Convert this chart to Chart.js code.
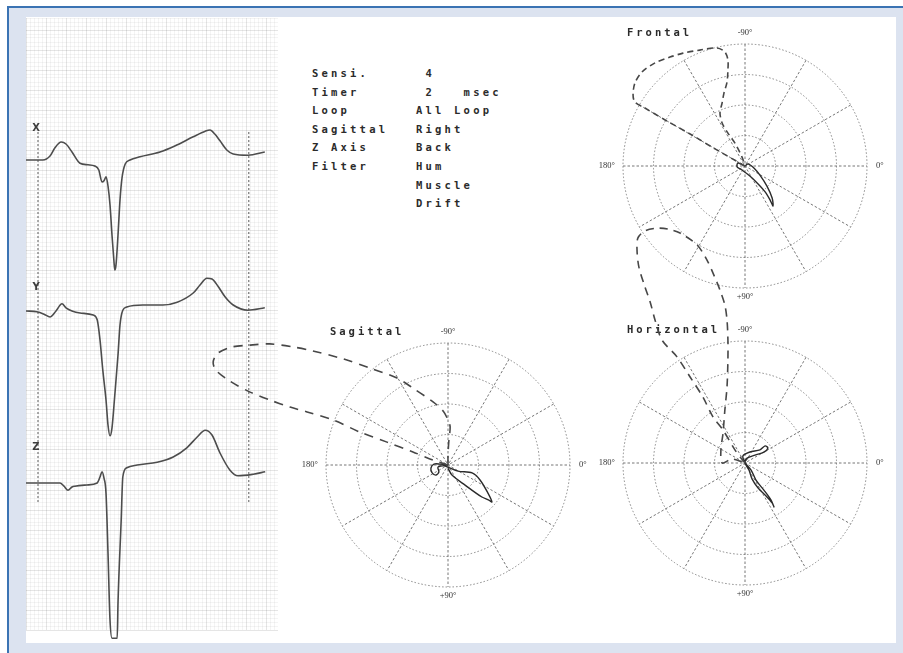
<!DOCTYPE html>
<html>
<head>
<meta charset="utf-8">
<title>Vectorcardiogram</title>
<script src="https://cdn.jsdelivr.net/npm/chart.js@4.4.1/dist/chart.umd.min.js"></script>
<style>
  html, body { margin: 0; padding: 0; background: #fff; }
  #page { position: relative; width: 903px; height: 653px; overflow: hidden; background: #fff; }
  #frame { position: absolute; left: 7px; top: 6px; width: 920px; height: 670px; background: #dce3f0;
           border-top: 2px solid #3b73b3; border-left: 2px solid #3b73b3; }
  #sheet { position: absolute; left: 26px; top: 17px; width: 870px; height: 626px; background: #fff; }
  #ecg { position: absolute; left: 26px; top: 18px; }
  #vcg { position: absolute; left: 0; top: 0; pointer-events: none; }
  .info { position: absolute; top: 64px; font: bold 10.5px "DejaVu Sans Mono", monospace;
          letter-spacing: 3.2px; line-height: 18.6px; color: #2b2b2b; white-space: pre; }
</style>
</head>
<body>
<div id="page">
  <div id="frame"></div>
  <div id="sheet"></div>
  <canvas id="ecg" width="252" height="627"></canvas>
  <div class="info" id="infoNames" style="left:312px"></div>
  <div class="info" id="infoValues" style="left:416px"></div>
  <canvas id="vcg" width="903" height="653"></canvas>
</div>
<script>
// ---------- recorder settings ----------
const settingNames  = ['Sensi.', 'Timer', 'Loop', 'Sagittal', 'Z Axis', 'Filter', '', ''];
const settingValues = [' 4', ' 2   msec', 'All Loop', 'Right', 'Back', 'Hum', 'Muscle', 'Drift'];

// ---------- scalar leads: [time ms, amplitude mV] ----------
const leadX = [[0,0],[42,0],[60,0.1],[72,0.3],[88,0.45],[100,0.4],[115,0.2],[135,-0.08],[155,-0.12],
  [172,-0.15],[182,-0.25],[190,-0.55],[195,-0.52],[200,-0.42],[205,-0.65],[210,-1.12],[215,-1.88],
  [220,-2.55],[222,-2.75],[225,-2.62],[230,-1.88],[235,-1.0],[240,-0.45],[248,-0.1],[260,0],[285,0.08],
  [335,0.2],[372,0.35],[418,0.58],[448,0.72],[460,0.75],[472,0.65],[485,0.48],[502,0.25],[518,0.15],
  [555,0.12],[597,0.2]];
const leadY = [[0,0],[27,-0.02],[45,-0.08],[60,-0.15],[75,0],[90,0.18],[100,0.08],[115,0],[135,-0.05],
  [168,-0.1],[178,-0.22],[185,-0.72],[192,-1.48],[200,-2.22],[205,-2.85],[210,-3.12],[215,-2.92],
  [222,-2.1],[230,-1.1],[235,-0.35],[242,0.02],[252,0.1],[292,0.15],[342,0.15],[378,0.22],[418,0.45],
  [435,0.65],[452,0.82],[465,0.8],[480,0.62],[498,0.35],[518,0.15],[555,0.02],[597,0.08]];
const leadZ = [[0,0],[42,0],[85,0],[95,-0.08],[105,-0.18],[115,-0.1],[122,-0.08],[152,-0.05],[178,0],
  [185,0.15],[190,0.28],[195,0.12],[200,-0.25],[205,-1.75],[210,-3.42],[215,-3.88],[228,-3.88],
  [230,-3.0],[238,-0.92],[242,0.15],[252,0.38],[278,0.45],[328,0.52],[368,0.65],[402,0.88],[428,1.15],
  [448,1.32],[465,1.2],[485,0.75],[510,0.32],[530,0.18],[568,0.22],[598,0.28]];
const leadNames = ['X', 'Y', 'Z'];
const markerTimes = [30, 557];          // ms, beat onset / end markers

// ---------- spatial loops: [x, y] in ring units (y positive = +90°) ----------
const frontalDashedLoop = [[0,0],[-0.98,-0.56],[-1.80,-1.05],[-2.62,-1.51],[-3.28,-1.90],[-3.61,-2.10],
  [-3.67,-2.33],[-3.61,-2.72],[-3.38,-3.08],[-2.95,-3.38],[-2.46,-3.57],[-2.03,-3.70],[-1.48,-3.80],
  [-0.92,-3.87],[-0.66,-3.74],[-0.56,-3.48],[-0.56,-3.15],[-0.59,-2.75],[-0.69,-2.39],[-0.75,-2.07],
  [-0.82,-1.74],[-0.75,-1.41],[-0.56,-1.08],[-0.33,-0.75],[-0.10,-0.30],[0,0]];
const frontalSolidLoop = [[0,0],[-0.23,-0.10],[-0.26,0.03],[-0.10,0.13],[0.16,0.33],[0.43,0.59],
  [0.66,0.85],[0.82,1.11],[0.92,1.31],[0.89,1.05],[0.72,0.66],[0.49,0.30],[0.30,0.07],[0.10,-0.07],[0,0]];

const sagittalDashedLoop = [[0,0],[-0.49,-0.16],[-1.15,-0.43],[-2.00,-0.75],[-2.89,-1.08],[-3.77,-1.48],
  [-4.62,-1.74],[-5.18,-1.90],[-5.84,-2.13],[-6.49,-2.39],[-7.15,-2.75],[-7.61,-3.11],[-7.70,-3.38],
  [-7.54,-3.67],[-7.08,-3.87],[-6.49,-3.93],[-5.84,-3.97],[-5.08,-3.87],[-4.43,-3.74],[-3.44,-3.48],
  [-2.56,-3.18],[-1.67,-2.85],[-1.15,-2.52],[-0.49,-2.07],[-0.16,-1.77],[0,-1.48],[0.07,-1.25],
  [0.03,-0.82],[0,-0.33],[0,0]];
const sagittalSolidLoop = [[0,0],[-0.26,-0.03],[-0.46,-0.03],[-0.56,0.10],[-0.52,0.26],[-0.39,0.33],
  [-0.30,0.23],[-0.33,0.07],[-0.13,0.03],[0.33,0.20],[0.79,0.26],[1.05,0.49],[1.31,0.92],[1.44,1.21],
  [1.34,1.15],[1.11,1.05],[0.56,0.66],[0.13,0.33],[0,0.10]];

const horizontalDashedLoop = [[0,0],[-0.33,-0.43],[-0.72,-1.08],[-1.05,-1.51],[-1.38,-2.16],[-1.80,-2.82],
  [-2.23,-3.48],[-2.72,-4.03],[-2.95,-4.69],[-3.11,-5.28],[-3.28,-5.77],[-3.48,-6.43],[-3.54,-6.98],
  [-3.51,-7.38],[-3.28,-7.61],[-2.89,-7.70],[-2.52,-7.67],[-2.13,-7.54],[-1.57,-7.15],[-1.25,-6.66],
  [-1.02,-6.16],[-0.82,-5.67],[-0.66,-5.18],[-0.59,-4.69],[-0.56,-4.03],[-0.56,-3.38],[-0.59,-2.49],
  [-0.66,-1.74],[-0.72,-0.98],[-0.79,-0.43],[-0.75,0],[-0.43,-0.13],[0,0]];
const horizontalSolidLoop = [[0,0],[-0.07,-0.23],[0.16,-0.36],[0.49,-0.43],[0.66,-0.56],[0.75,-0.49],
  [0.62,-0.36],[0.33,-0.26],[0.07,-0.16],[0,0],[0.13,0.23],[0.23,0.52],[0.43,0.82],[0.69,1.08],
  [0.89,1.31],[0.95,1.44],[0.85,1.21],[0.62,0.89],[0.36,0.56],[0.20,0.23],[0,0]];

const angleLabels = { top: '-90°', right: '0°', bottom: '+90°', left: '180°' };
const planeTitles = ['Frontal', 'Sagittal', 'Horizontal'];

// ---------- settings text ----------
document.getElementById('infoNames').textContent = settingNames.join('\n');
document.getElementById('infoValues').textContent = settingValues.join('\n');

const toPoints = arr => arr.map(([x, y]) => ({ x, y }));

// ---------- ECG strip ----------
const PAPER_MV = 15.3;                  // paper height in mV (0.1 mV small boxes)
const PAPER_MS = 630;                   // paper width in ms (10 ms small boxes)
const leadZeroOnPaper = { X: 11.75, Y: 7.975, Z: 3.675 };   // baseline height of each lead, mV from paper bottom
const markerSpan = [3.2, 12.5];

const isMajor = (v, step) => Math.abs(v / step - Math.round(v / step)) < 1e-6;
const paperGrid = step => ctx => (ctx.tick && isMajor(ctx.tick.value, step)) ? 'rgba(0,0,0,0.10)' : 'rgba(0,0,0,0.045)';

const leadAxis = name => ({ type: 'linear', display: false,
  min: -leadZeroOnPaper[name], max: PAPER_MV - leadZeroOnPaper[name] });

const leadLabelPlugin = {
  id: 'leadLabels',
  afterDatasetsDraw(chart) {
    const c = chart.ctx;
    const xs = chart.scales.x;
    const above = { X: 0.8, Y: 0.6, Z: 0.9 };
    c.save();
    c.font = 'bold 10px "DejaVu Sans"';
    c.fillStyle = '#3d3d3d';
    c.textAlign = 'center';
    c.textBaseline = 'middle';
    leadNames.forEach(n => {
      const ys = chart.scales['y' + n];
      c.fillText(n, xs.getPixelForValue(markerTimes[0]) - 2, ys.getPixelForValue(above[n]));
    });
    c.restore();
  }
};

const traceStyle = { showLine: true, pointRadius: 0, borderColor: '#4d4d4d', borderWidth: 1.6,
  cubicInterpolationMode: 'monotone', clip: false };

new Chart(document.getElementById('ecg'), {
  type: 'scatter',
  data: {
    datasets: [
      { ...traceStyle, data: toPoints(leadX), yAxisID: 'yX' },
      { ...traceStyle, data: toPoints(leadY), yAxisID: 'yY' },
      { ...traceStyle, data: toPoints(leadZ), yAxisID: 'yZ' },
      ...markerTimes.map(t => ({ showLine: true, pointRadius: 0, borderColor: '#5a5a5a', borderWidth: 1,
        borderDash: [2, 2], yAxisID: 'y', data: markerSpan.map(v => ({ x: t, y: v })) }))
    ]
  },
  options: {
    responsive: false, animation: false, devicePixelRatio: 1, events: [],
    layout: { padding: { left: 0, right: 0, top: 0, bottom: 15 } },
    plugins: { legend: { display: false }, tooltip: { enabled: false } },
    scales: {
      x: { type: 'linear', min: 0, max: PAPER_MS,
           ticks: { display: false, stepSize: 10 }, border: { display: false },
           grid: { color: paperGrid(50), drawTicks: false, lineWidth: 1 },
           afterFit(s) { s.height = 0; } },
      y: { type: 'linear', min: 0, max: PAPER_MV,
           ticks: { display: false, stepSize: 0.1 }, border: { display: false },
           grid: { color: paperGrid(0.5), drawTicks: false, lineWidth: 1 },
           afterFit(s) { s.width = 0; } },
      yX: leadAxis('X'), yY: leadAxis('Y'), yZ: leadAxis('Z')
    }
  },
  plugins: [leadLabelPlugin]
});

// ---------- vector loops ----------
const W = 903, H = 653;
const PX_PER_RING = 30.5;
const RINGS = 4;
const planes = [
  { id: 'F', title: planeTitles[0], cx: 745, cy: 166, dash: [6, 4], dashed: frontalDashedLoop, solid: frontalSolidLoop },
  { id: 'S', title: planeTitles[1], cx: 448, cy: 465, dash: [9, 7], dashed: sagittalDashedLoop, solid: sagittalSolidLoop },
  { id: 'H', title: planeTitles[2], cx: 745, cy: 463, dash: [8, 6], dashed: horizontalDashedLoop, solid: horizontalSolidLoop }
];

const vcgScales = {};
planes.forEach(p => {
  vcgScales['x' + p.id] = { type: 'linear', display: false, min: -p.cx / PX_PER_RING, max: (W - p.cx) / PX_PER_RING };
  vcgScales['y' + p.id] = { type: 'linear', display: false, reverse: true, min: -p.cy / PX_PER_RING, max: (H - p.cy) / PX_PER_RING };
});

const vcgDatasets = [];
planes.forEach(p => {
  vcgDatasets.push({ data: toPoints(p.dashed), xAxisID: 'x' + p.id, yAxisID: 'y' + p.id,
    showLine: true, pointRadius: 0, borderColor: '#474747', borderWidth: 1.6, borderDash: p.dash, tension: 0.3 });
  vcgDatasets.push({ data: toPoints(p.solid), xAxisID: 'x' + p.id, yAxisID: 'y' + p.id,
    showLine: true, pointRadius: 0, borderColor: '#2a2a2a', borderWidth: 1.4, tension: 0.3 });
});

function spacedText(c, text, x, y, advance) {
  for (let i = 0; i < text.length; i++) c.fillText(text[i], x + i * advance, y);
}

const polarGridPlugin = {
  id: 'polarGrid',
  beforeDatasetsDraw(chart) {
    const c = chart.ctx;
    planes.forEach(p => {
      const xs = chart.scales['x' + p.id], ys = chart.scales['y' + p.id];
      const cx = xs.getPixelForValue(0), cy = ys.getPixelForValue(0);
      const unit = xs.getPixelForValue(1) - cx;
      const R = unit * RINGS;
      c.save();
      c.strokeStyle = '#858585';
      c.lineWidth = 1;
      c.setLineDash([1.5, 2]);
      for (let k = 1; k <= RINGS; k++) {
        c.beginPath(); c.arc(cx, cy, unit * k, 0, Math.PI * 2); c.stroke();
      }
      c.setLineDash([2.5, 2]);
      c.strokeStyle = '#767676';
      for (let a = 0; a < 180; a += 30) {
        const r = a * Math.PI / 180;
        c.beginPath();
        c.moveTo(cx - R * Math.cos(r), cy - R * Math.sin(r));
        c.lineTo(cx + R * Math.cos(r), cy + R * Math.sin(r));
        c.stroke();
      }
      c.setLineDash([]);
      c.fillStyle = '#333';
      c.font = '8.5px "Liberation Serif"';
      c.textBaseline = 'middle';
      c.textAlign = 'center';
      c.fillText(angleLabels.top, cx, cy - R - 11);
      c.fillText(angleLabels.bottom, cx, cy + R + 9);
      c.textAlign = 'left';
      c.fillText(angleLabels.right, cx + R + 9, cy);
      c.textAlign = 'right';
      c.fillText(angleLabels.left, cx - R - 8, cy);
      c.textAlign = 'left';
      c.font = 'bold 10.5px "DejaVu Sans Mono"';
      c.fillStyle = '#2b2b2b';
      spacedText(c, p.title, cx - 118, cy - R - 11, 9.3);
      c.restore();
    });
  }
};

new Chart(document.getElementById('vcg'), {
  type: 'scatter',
  data: { datasets: vcgDatasets },
  options: {
    responsive: false, animation: false, devicePixelRatio: 1, events: [],
    layout: { padding: 0 },
    plugins: { legend: { display: false }, tooltip: { enabled: false } },
    scales: vcgScales
  },
  plugins: [polarGridPlugin]
});
</script>
</body>
</html>
